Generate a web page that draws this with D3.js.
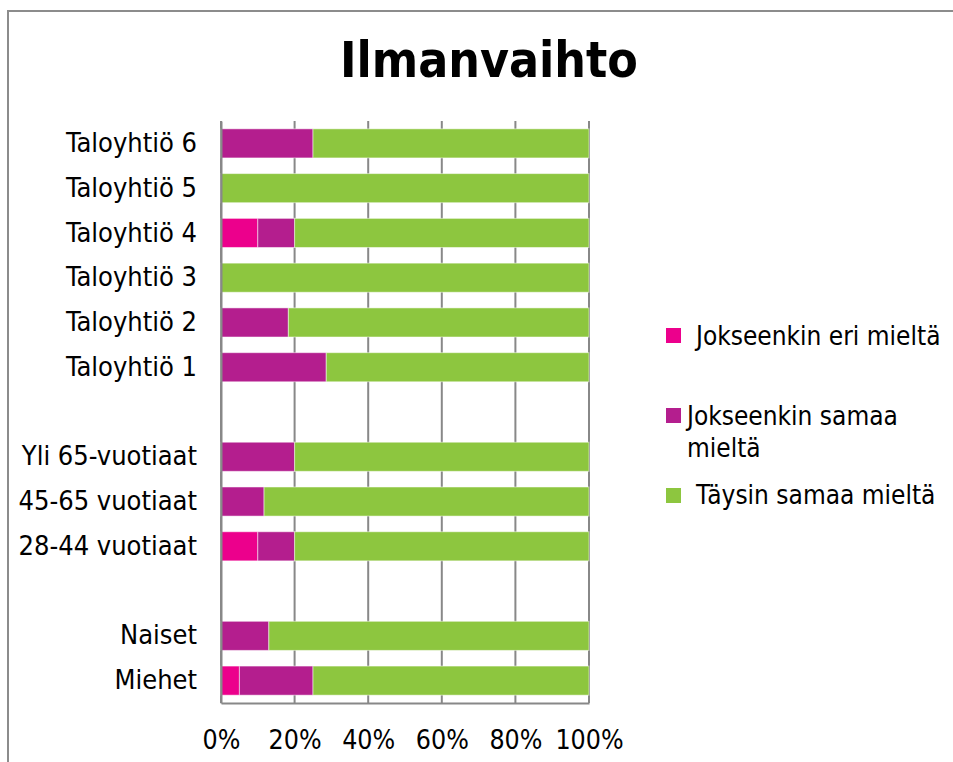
<!DOCTYPE html>
<html lang="fi">
<head>
<meta charset="UTF-8"/>
<title>Ilmanvaihto</title>
<script src="https://d3js.org/d3.v7.min.js"></script>
<style>
  body { margin: 0; background: #fff; }
  svg text { font-family: "DejaVu Sans Condensed", "DejaVu Sans", sans-serif; font-stretch: condensed; }
</style>
</head>
<body>
<script>
var w = 953;
var h = 762;

// categories top to bottom, "" = empty gap row
var categories = ["Taloyhtiö 6", "Taloyhtiö 5", "Taloyhtiö 4", "Taloyhtiö 3", "Taloyhtiö 2", "Taloyhtiö 1",
                  "", "Yli 65-vuotiaat", "45-65 vuotiaat", "28-44 vuotiaat", "", "Naiset", "Miehet"];

// percentages per series, same order as categories (null = gap row)
var eriMielta    = [0, 0, 10, 0, 0,    0,    null, 0,  0,    10, null, 0,  5];
var samaaMielta  = [25, 0, 10, 0, 18.3, 28.6, null, 20, 11.7, 10, null, 13, 20];
var taysinMielta = [75, 100, 80, 100, 81.7, 71.4, null, 80, 88.3, 80, null, 87, 75];

var seriesNames = ["Jokseenkin eri mieltä", "Jokseenkin samaa mieltä", "Täysin samaa mieltä"];
var seriesColors = ["#ec008c", "#b41e8e", "#8dc63f"];
var xTicks = [0, 20, 40, 60, 80, 100];

var rows = categories.map(function(c, i) {
    return { idx: i, label: c, v: [eriMielta[i], samaaMielta[i], taysinMielta[i]] };
});

var svg = d3.select("body").append("svg")
    .attr("width", w)
    .attr("height", h);

// chart frame
svg.append("rect")
    .attr("x", 8).attr("y", 11)
    .attr("width", w + 20).attr("height", h + 20)
    .attr("fill", "none")
    .attr("stroke", "#8c8c8c")
    .attr("stroke-width", 2);

svg.append("text")
    .attr("x", 489)
    .attr("y", 77)
    .attr("text-anchor", "middle")
    .attr("font-size", "49.5px")
    .attr("font-weight", "bold")
    .text("Ilmanvaihto");

var xScale = d3.scaleLinear().domain([0, 100]).range([221, 589]);
var yScale = d3.scaleBand()
    .domain(rows.map(function(d) { return d.idx; }))
    .range([121, 703])
    .paddingInner(0.35)
    .paddingOuter(0.175);

/* gridlines */
svg.append("g")
    .selectAll("line")
    .data(xTicks)
    .enter()
    .append("line")
    .attr("x1", function(d) { return xScale(d); })
    .attr("x2", function(d) { return xScale(d); })
    .attr("y1", 121)
    .attr("y2", 703)
    .attr("stroke", "#888")
    .attr("stroke-width", 2);

/* stacked bars */
var segs = [];
rows.forEach(function(r) {
    if (r.v[0] === null) return;
    var acc = 0;
    r.v.forEach(function(val, s) {
        if (val > 0) segs.push({ idx: r.idx, s: s, x0: acc, x1: acc + val });
        acc += val;
    });
});

svg.append("g")
    .selectAll("rect")
    .data(segs)
    .enter()
    .append("rect")
    .attr("x", function(d) { return xScale(d.x0); })
    .attr("width", function(d) { return xScale(d.x1) - xScale(d.x0); })
    .attr("y", function(d) { return yScale(d.idx); })
    .attr("height", yScale.bandwidth())
    .attr("fill", function(d) { return seriesColors[d.s]; })
    .attr("stroke", "#ffffff")
    .attr("stroke-opacity", 0.5)
    .attr("stroke-width", 1);

/* axes */
var xAxis = d3.axisBottom(xScale)
    .tickValues(xTicks)
    .tickSize(0)
    .tickPadding(27)
    .tickFormat(function(d) { return d + "%"; });

var gx = svg.append("g")
    .attr("transform", "translate(0,703)")
    .call(xAxis);
gx.select(".domain").attr("stroke", "#888").attr("stroke-width", 2);
gx.selectAll("text").attr("font-size", "26.5px").attr("fill", "#000")
    .attr("font-family", "DejaVu Sans Condensed, DejaVu Sans, sans-serif");

var yAxis = d3.axisLeft(yScale)
    .tickSize(0)
    .tickPadding(24)
    .tickFormat(function(i) { return categories[i]; });

var gy = svg.append("g")
    .attr("transform", "translate(221,0)")
    .call(yAxis);
gy.select(".domain").attr("stroke", "#888").attr("stroke-width", 2);
gy.selectAll("text").attr("font-size", "27px").attr("fill", "#000")
    .attr("font-family", "DejaVu Sans Condensed, DejaVu Sans, sans-serif");

/* legend */
var legendItems = [
    { s: 0, sq: 328, tx: 696, lines: [{ t: "Jokseenkin eri mieltä", y: 345 }] },
    { s: 1, sq: 408, tx: 687, lines: [{ t: "Jokseenkin samaa", y: 425 }, { t: "mieltä", y: 457 }] },
    { s: 2, sq: 488, tx: 696, lines: [{ t: "Täysin samaa mieltä", y: 504 }] }
];

var lg = svg.append("g")
    .selectAll("g")
    .data(legendItems)
    .enter()
    .append("g");

lg.append("rect")
    .attr("x", 666)
    .attr("y", function(d) { return d.sq; })
    .attr("width", 15)
    .attr("height", 15)
    .attr("fill", function(d) { return seriesColors[d.s]; });

lg.selectAll("text")
    .data(function(d) { return d.lines.map(function(l) { return { t: l.t, y: l.y, x: d.tx }; }); })
    .enter()
    .append("text")
    .attr("x", function(d) { return d.x; })
    .attr("y", function(d) { return d.y; })
    .attr("font-size", "26px")
    .attr("fill", "#000")
    .text(function(d) { return d.t; });
</script>
</body>
</html>
